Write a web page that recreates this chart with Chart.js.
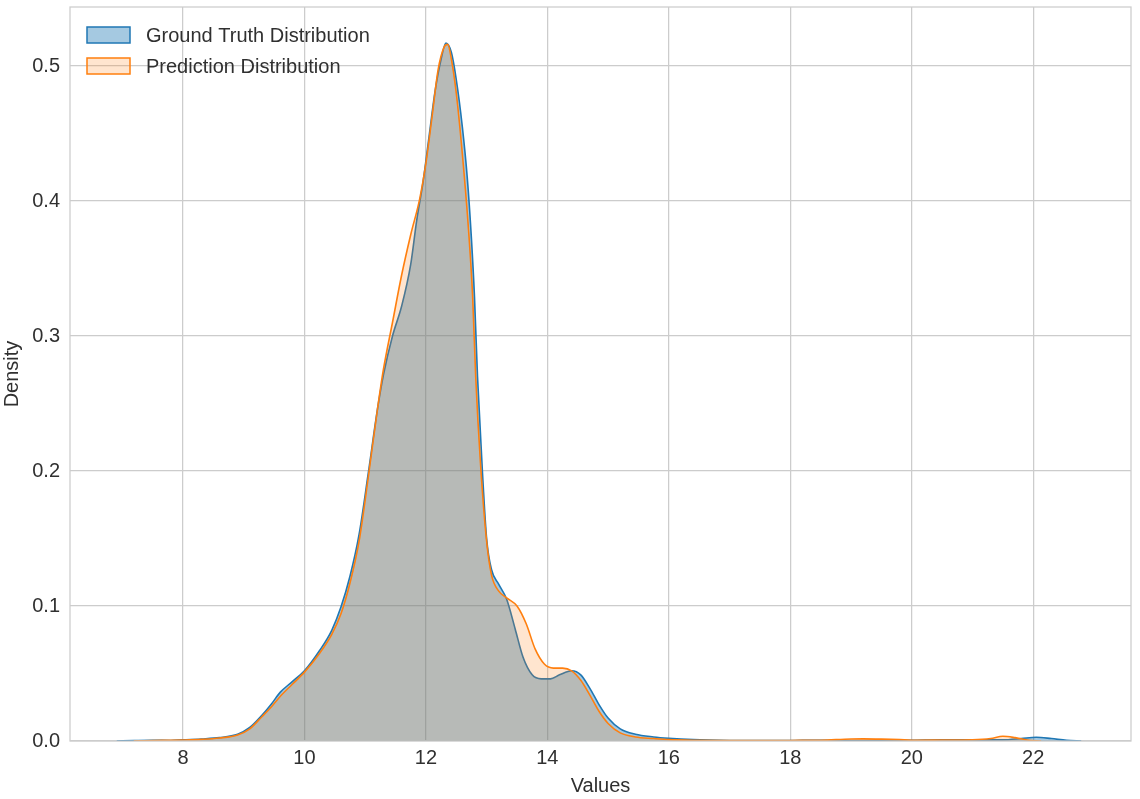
<!DOCTYPE html>
<html>
<head>
<meta charset="utf-8">
<script src="https://cdn.jsdelivr.net/npm/chart.js@4/dist/chart.umd.min.js"></script>
<style>
  html, body { margin: 0; padding: 0; background: #fff; }
  #wrap { width: 1140px; height: 799px; }
</style>
</head>
<body>
<div id="wrap"><canvas id="kdeChart" width="1140" height="799"></canvas></div>
<script>
// KDE curves (x position, density)
const gtX = [6.91, 7.2, 7.5, 7.8, 8.0, 8.3, 8.6, 8.9, 9.1, 9.3, 9.45, 9.6, 9.8, 10.0, 10.25, 10.45, 10.6, 10.75, 10.9, 11.05,
  11.2, 11.3, 11.45, 11.6, 11.75, 11.85, 11.95, 12.05, 12.15, 12.25, 12.33, 12.42, 12.5, 12.6, 12.68, 12.75, 12.8, 12.85, 12.93,
  13.0, 13.08, 13.2, 13.33, 13.47, 13.6, 13.75, 13.9, 14.05, 14.2, 14.4, 14.55, 14.7, 14.85, 15.0, 15.2, 15.45, 15.75, 16.0,
  16.4, 17.0, 17.5, 18.0, 18.4, 18.8, 19.5, 20.0, 20.5, 21.0, 21.5, 21.8, 22.05, 22.3, 22.55, 22.79];
const gtY = [0, 0.0003, 0.0005, 0.0004, 0.0008, 0.0015, 0.0025, 0.005, 0.010, 0.019, 0.027, 0.036, 0.044, 0.052, 0.067, 0.082, 0.099, 0.122, 0.153, 0.198,
  0.245, 0.271, 0.300, 0.322, 0.353, 0.386, 0.413, 0.447, 0.481, 0.505, 0.517, 0.510, 0.490, 0.455, 0.418, 0.372, 0.329, 0.270, 0.200,
  0.150, 0.127, 0.116, 0.105, 0.083, 0.062, 0.049, 0.046, 0.046, 0.049, 0.052, 0.049, 0.039, 0.027, 0.017, 0.009, 0.005, 0.003, 0.002,
  0.001, 0.0004, 0.0003, 0.0003, 0.0006, 0.0003, 0.0004, 0.0005, 0.0009, 0.0008, 0.0008, 0.0018, 0.0028, 0.0018, 0.0005, 0];

const predX = [7.19, 7.5, 7.8, 8.0, 8.3, 8.6, 8.9, 9.1, 9.3, 9.45, 9.6, 9.8, 10.0, 10.25, 10.45, 10.6, 10.75, 10.9, 11.05, 11.2,
  11.3, 11.45, 11.6, 11.75, 11.9, 12.0, 12.1, 12.2, 12.3, 12.36, 12.42, 12.5, 12.6, 12.7, 12.77, 12.82, 12.9, 13.0, 13.08, 13.2,
  13.33, 13.5, 13.65, 13.8, 13.95, 14.1, 14.25, 14.4, 14.55, 14.7, 14.85, 15.0, 15.2, 15.45, 15.75, 16.0, 16.5, 17.0, 17.5, 18.0,
  18.5, 19.0, 19.2, 19.5, 19.8, 20.0, 20.5, 21.0, 21.3, 21.5, 21.7, 21.9, 22.13];
const predY = [0, 0.0004, 0.0005, 0.0007, 0.0012, 0.0022, 0.0045, 0.009, 0.018, 0.025, 0.033, 0.042, 0.051, 0.065, 0.079, 0.094, 0.117, 0.148, 0.195, 0.245,
  0.275, 0.310, 0.345, 0.375, 0.402, 0.428, 0.462, 0.497, 0.514, 0.516, 0.505, 0.480, 0.435, 0.380, 0.329, 0.270, 0.205, 0.148, 0.123, 0.111,
  0.106, 0.100, 0.087, 0.068, 0.057, 0.054, 0.054, 0.052, 0.045, 0.034, 0.022, 0.013, 0.006, 0.003, 0.0018, 0.001, 0.0005, 0.0003, 0.0003, 0.0004,
  0.0006, 0.0015, 0.0016, 0.0014, 0.0010, 0.0006, 0.0007, 0.0009, 0.0018, 0.0035, 0.0025, 0.0008, 0];

const xTicks = [8, 10, 12, 14, 16, 18, 20, 22];
const yTicks = [0, 0.1, 0.2, 0.3, 0.4, 0.5];
const seriesNames = ['Ground Truth Distribution', 'Prediction Distribution'];

const FONT = '"Liberation Sans", Arial, sans-serif';
const TEXT = '#303030';
const GRID = '#cccccc';

const toPoints = (xs, ys) => xs.map((x, i) => ({x: x, y: ys[i]}));

// frame round the plot area plus a legend sitting inside it (top left)
const framePlugin = {
    id: 'frameAndLegend',
    afterDraw(chart) {
        const ctx = chart.ctx;
        const a = chart.chartArea;
        ctx.save();
        ctx.strokeStyle = GRID;
        ctx.lineWidth = 1.25;
        ctx.strokeRect(a.left, a.top, a.right - a.left, a.bottom - a.top);

        chart.data.datasets.forEach((ds, i) => {
            const bx = a.left + 17;
            const by = a.top + 20 + i * 31;
            ctx.fillStyle = ds.backgroundColor;
            ctx.fillRect(bx, by, 43, 16);
            ctx.strokeStyle = ds.borderColor;
            ctx.lineWidth = 1.5;
            ctx.strokeRect(bx, by, 43, 16);
            ctx.fillStyle = TEXT;
            ctx.font = '20px ' + FONT;
            ctx.textBaseline = 'middle';
            ctx.fillText(ds.label, bx + 59, by + 9);
        });
        ctx.restore();
    }
};

new Chart(document.getElementById('kdeChart').getContext('2d'), {
    type: 'line',
    data: {
        datasets: [{
            label: seriesNames[0],
            data: toPoints(gtX, gtY),
            borderColor: '#1f77b4',
            backgroundColor: 'rgba(31, 119, 180, 0.4)',
            borderWidth: 1.6,
            fill: 'origin',
            pointRadius: 0,
            cubicInterpolationMode: 'monotone',
            order: 2
        }, {
            label: seriesNames[1],
            data: toPoints(predX, predY),
            borderColor: '#ff7f0e',
            backgroundColor: 'rgba(255, 127, 14, 0.2)',
            borderWidth: 1.6,
            fill: 'origin',
            pointRadius: 0,
            cubicInterpolationMode: 'monotone',
            order: 1
        }]
    },
    options: {
        responsive: false,
        animation: false,
        layout: { padding: { top: 7, right: 9, left: 0, bottom: 0 } },
        plugins: {
            legend: { display: false },
            tooltip: { enabled: false }
        },
        scales: {
            x: {
                type: 'linear',
                min: 6.14,
                max: 23.61,
                afterFit: function(scale) {
                    scale.height = 58;
                    scale.paddingLeft = 0;
                    scale.paddingRight = 0;
                },
                afterBuildTicks: function(scale) { scale.ticks = xTicks.map(v => ({value: v})); },
                grid: { color: GRID, lineWidth: 1.25, drawTicks: false },
                border: { display: false },
                ticks: {
                    padding: 5,
                    color: TEXT,
                    font: { family: FONT, size: 20 },
                    callback: v => String(v)
                },
                title: {
                    display: true,
                    text: 'Values',
                    color: TEXT,
                    font: { family: FONT, size: 20 },
                    padding: { top: 0, bottom: 1 }
                }
            },
            y: {
                min: 0,
                max: 0.5437,
                afterFit: function(scale) {
                    scale.width = 70;
                    scale.paddingTop = 0;
                    scale.paddingBottom = 0;
                },
                afterBuildTicks: function(scale) { scale.ticks = yTicks.map(v => ({value: v})); },
                grid: { color: GRID, lineWidth: 1.25, drawTicks: false },
                border: { display: false },
                ticks: {
                    padding: 10,
                    color: TEXT,
                    font: { family: FONT, size: 20 },
                    callback: v => v.toFixed(1)
                },
                title: {
                    display: true,
                    text: 'Density',
                    color: TEXT,
                    font: { family: FONT, size: 20 },
                    padding: { top: 0, bottom: 0 }
                }
            }
        }
    },
    plugins: [framePlugin]
});
</script>
</body>
</html>
